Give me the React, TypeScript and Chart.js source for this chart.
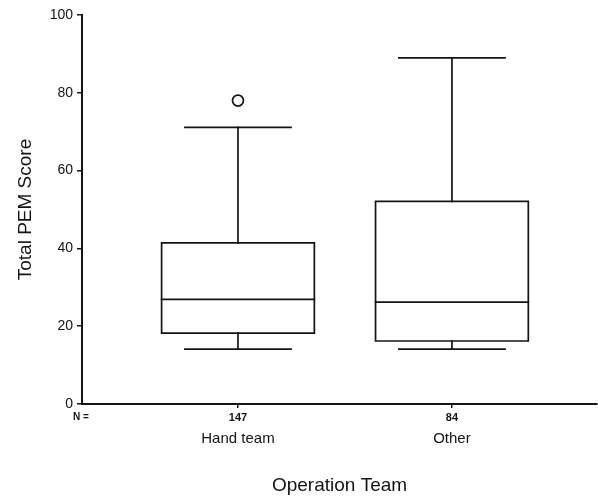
import { useEffect, useRef } from "react";
import { Chart, registerables } from "chart.js";

Chart.register(...registerables);

// ---- data ----
const categories = ["Hand team", "Other"];
const sampleSizes = [147, 84];
const whiskerLow = [14.1, 14.1];
const quartile1 = [18.2, 16.2];
const medians = [26.9, 26.2];
const quartile3 = [41.4, 52.1];
const whiskerHigh = [71.1, 89.0];
const outliers: number[][] = [[78.0], []];
const yTicks = [0, 20, 40, 60, 80, 100];

// ---- style / layout constants ----
const BOX_HALF = 0.357;
const CAP_HALF = 0.248;
const X_MIN = 0.271;
const X_MAX = 2.678;
const INK = "#141414";
const FONT = "'Liberation Sans', Arial, Helvetica, sans-serif";
const LINE_W = 1.7;

function lineSet(pts: { x: number; y: number }[]) {
  return {
    type: "scatter" as const,
    data: pts,
    showLine: true,
    borderColor: INK,
    borderWidth: LINE_W,
    borderCapStyle: "square" as const,
    borderJoinStyle: "miter" as const,
    pointRadius: 0,
    pointHoverRadius: 0,
    fill: false,
    tension: 0,
  };
}

function buildDatasets() {
  const ds: any[] = [];
  categories.forEach((_, i) => {
    const c = i + 1;
    ds.push(
      lineSet([
        { x: c - BOX_HALF, y: quartile1[i] },
        { x: c + BOX_HALF, y: quartile1[i] },
        { x: c + BOX_HALF, y: quartile3[i] },
        { x: c - BOX_HALF, y: quartile3[i] },
        { x: c - BOX_HALF, y: quartile1[i] },
      ])
    );
    ds.push(lineSet([{ x: c - BOX_HALF, y: medians[i] }, { x: c + BOX_HALF, y: medians[i] }]));
    ds.push(lineSet([{ x: c, y: quartile3[i] }, { x: c, y: whiskerHigh[i] }]));
    ds.push(lineSet([{ x: c - CAP_HALF, y: whiskerHigh[i] }, { x: c + CAP_HALF, y: whiskerHigh[i] }]));
    ds.push(lineSet([{ x: c, y: quartile1[i] }, { x: c, y: whiskerLow[i] }]));
    ds.push(lineSet([{ x: c - CAP_HALF, y: whiskerLow[i] }, { x: c + CAP_HALF, y: whiskerLow[i] }]));
  });
  ds.push({
    type: "scatter" as const,
    data: outliers.flatMap((arr, i) => arr.map((v) => ({ x: i + 1, y: v }))),
    showLine: false,
    pointRadius: 5.5,
    pointHoverRadius: 5.5,
    pointBorderWidth: LINE_W,
    pointBackgroundColor: "#ffffff",
    pointBorderColor: INK,
  });
  return ds;
}

const labelsPlugin = {
  id: "boxLabels",
  afterDraw(chart: any) {
    const { ctx, scales, chartArea } = chart;
    const xs = scales.x;
    ctx.save();
    ctx.fillStyle = INK;
    ctx.textAlign = "center";
    ctx.textBaseline = "middle";
    ctx.font = `bold 10px ${FONT}`;
    ctx.fillText("N =", chartArea.left - 1, xs.top + 13);
    ctx.font = `15px ${FONT}`;
    categories.forEach((name, i) => {
      ctx.fillText(name, xs.getPixelForValue(i + 1), xs.top + 35);
    });
    ctx.restore();
  },
};

export default function App() {
  const ref = useRef<HTMLCanvasElement | null>(null);

  useEffect(() => {
    if (!ref.current) return;
    const chart = new Chart(ref.current, {
      type: "scatter",
      data: { datasets: buildDatasets() },
      plugins: [labelsPlugin],
      options: {
        animation: false,
        responsive: false,
        devicePixelRatio: 1,
        layout: { autoPadding: false, padding: { top: 15, right: 1, bottom: 0, left: 0 } },
        plugins: { legend: { display: false }, tooltip: { enabled: false } },
        scales: {
          x: {
            type: "linear",
            min: X_MIN,
            max: X_MAX,
            afterBuildTicks: (s: any) => {
              s.ticks = categories.map((_, i) => ({ value: i + 1 }));
            },
            afterFit: (s: any) => {
              s.height = 94;
            },
            grid: { drawOnChartArea: false, drawTicks: true, tickLength: 4, color: INK, lineWidth: 1.5 },
            border: { display: true, color: INK, width: 2 },
            ticks: {
              autoSkip: false,
              maxRotation: 0,
              padding: 3,
              color: INK,
              font: { family: FONT, size: 11, weight: "bold" },
              callback: (v: any) => {
                const i = Math.round(Number(v)) - 1;
                return sampleSizes[i] != null ? String(sampleSizes[i]) : "";
              },
            },
            title: {
              display: true,
              text: "Operation Team",
              color: INK,
              font: { family: FONT, size: 19 },
              padding: { top: 0, bottom: 1 },
            },
          },
          y: {
            type: "linear",
            min: 0,
            max: 100,
            afterBuildTicks: (s: any) => {
              s.ticks = yTicks.map((v) => ({ value: v }));
            },
            afterFit: (s: any) => {
              s.width = 82;
            },
            grid: { drawOnChartArea: false, drawTicks: true, tickLength: 5, color: INK, lineWidth: 1.5 },
            border: { display: true, color: INK, width: 2 },
            ticks: { padding: 4, color: INK, font: { family: FONT, size: 14 } },
            title: {
              display: true,
              text: "Total PEM Score",
              color: INK,
              font: { family: FONT, size: 19 },
              padding: { top: 14, bottom: 0 },
            },
          },
        },
      } as any,
    });
    return () => chart.destroy();
  }, []);

  return (
    <div style={{ position: "fixed", left: 0, top: 0, width: 598, height: 498, background: "#fff" }}>
      <canvas ref={ref} width={598} height={498} style={{ display: "block", width: 598, height: 498 }} />
    </div>
  );
}
